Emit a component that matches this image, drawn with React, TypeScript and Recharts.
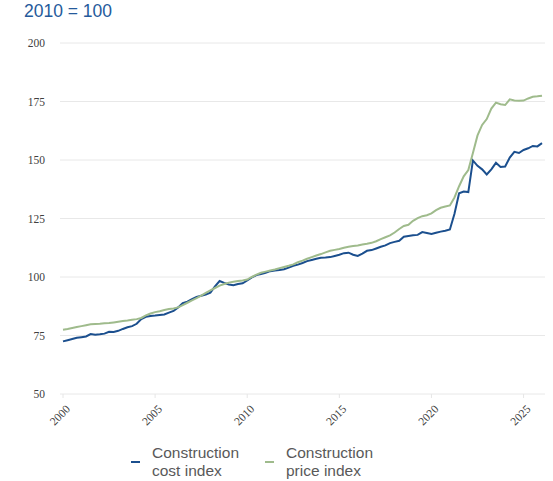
import React from "react";
import { LineChart, Line, XAxis, YAxis, CartesianGrid, Legend } from "recharts";

const dates: number[] = [
  2000.0, 2000.25, 2000.5, 2000.75, 2001.0, 2001.25, 2001.5, 2001.75,
  2002.0, 2002.25, 2002.5, 2002.75, 2003.0, 2003.25, 2003.5, 2003.75,
  2004.0, 2004.25, 2004.5, 2004.75, 2005.0, 2005.25, 2005.5, 2005.75,
  2006.0, 2006.25, 2006.5, 2006.75, 2007.0, 2007.25, 2007.5, 2007.75,
  2008.0, 2008.25, 2008.5, 2008.75, 2009.0, 2009.25, 2009.5, 2009.75,
  2010.0, 2010.25, 2010.5, 2010.75, 2011.0, 2011.25, 2011.5, 2011.75,
  2012.0, 2012.25, 2012.5, 2012.75, 2013.0, 2013.25, 2013.5, 2013.75,
  2014.0, 2014.25, 2014.5, 2014.75, 2015.0, 2015.25, 2015.5, 2015.75,
  2016.0, 2016.25, 2016.5, 2016.75, 2017.0, 2017.25, 2017.5, 2017.75,
  2018.0, 2018.25, 2018.5, 2018.75, 2019.0, 2019.25, 2019.5, 2019.75,
  2020.0, 2020.25, 2020.5, 2020.75, 2021.0, 2021.25, 2021.5, 2021.75,
  2022.0, 2022.25, 2022.5, 2022.75, 2023.0, 2023.25, 2023.5, 2023.75,
  2024.0, 2024.25, 2024.5, 2024.75, 2025.0, 2025.25, 2025.5, 2025.75,
  2026.0,
];

const costIndex: number[] = [
  72.5, 73.0, 73.5, 74.0, 74.3, 74.6, 75.6, 75.3,
  75.5, 75.8, 76.6, 76.5, 77.0, 77.8, 78.5, 79.0,
  80.0, 82.0, 83.0, 83.3, 83.5, 83.8, 84.0, 84.8,
  85.5, 87.0, 88.8, 89.5, 90.5, 91.5, 92.0, 92.5,
  93.3, 96.0, 98.3, 97.5, 96.8, 96.5, 97.0, 97.3,
  98.5, 99.8, 100.8, 101.3, 101.8, 102.5, 102.8, 103.0,
  103.3, 104.0, 104.8, 105.3, 106.0, 106.8, 107.3, 107.8,
  108.2, 108.3, 108.5, 109.0, 109.5, 110.2, 110.4, 109.5,
  109.0, 110.0, 111.2, 111.5, 112.2, 112.9, 113.5, 114.5,
  115.0, 115.5, 117.2, 117.5, 117.8, 118.0, 119.2, 118.8,
  118.4, 118.9, 119.4, 119.8, 120.3, 127.0, 135.8, 136.5,
  136.3, 149.8, 147.5, 146.0, 143.8, 146.0, 148.8, 147.0,
  147.2, 151.0, 153.5, 153.0, 154.3, 155.0, 156.0, 155.8,
  157.2,
];

const priceIndex: number[] = [
  77.5, 77.8, 78.2, 78.6, 79.0, 79.4, 79.8, 79.9,
  80.0, 80.2, 80.3, 80.6, 80.9, 81.2, 81.4, 81.7,
  82.0, 82.5, 83.6, 84.4, 85.0, 85.4, 85.9, 86.3,
  86.5, 87.0, 88.0, 89.0, 90.0, 91.0, 92.0, 93.2,
  94.3, 95.3, 96.3, 97.0, 97.6, 98.0, 98.3, 98.5,
  98.9, 100.0, 101.0, 101.8, 102.3, 102.8, 103.2, 103.8,
  104.3, 104.8, 105.4, 106.3, 107.0, 107.8, 108.5, 109.2,
  109.8, 110.5, 111.2, 111.6, 112.0, 112.5, 112.9, 113.2,
  113.5, 113.9, 114.2, 114.6, 115.3, 116.2, 117.0, 117.8,
  119.0, 120.5, 121.8, 122.3, 124.0, 125.2, 126.0, 126.4,
  127.2, 128.6, 129.6, 130.1, 130.6, 134.0, 138.8, 143.0,
  145.7, 153.0, 160.5, 165.0, 167.5, 172.0, 174.5, 173.8,
  173.5, 175.9, 175.4, 175.3, 175.4, 176.3, 177.0, 177.2,
  177.5,
];

const xTicks: number[] = [2000, 2005, 2010, 2015, 2020, 2025];
const yTicks: number[] = [50, 75, 100, 125, 150, 175, 200];

const seriesNames: string[] = ["Construction cost index", "Construction price index"];
const seriesLines: string[][] = [
  ["Construction", "cost index"],
  ["Construction", "price index"],
];
const seriesColors: string[] = ["#1b4f8e", "#9fbb8c"];

const data = dates.map((d, i) => ({
  date: d,
  cost: costIndex[i],
  price: priceIndex[i],
}));

const SERIF = "'Liberation Serif', 'DejaVu Serif', 'Times New Roman', serif";

const XTick = (props: any) => {
  const { x, y, payload } = props;
  return (
    <g transform={`translate(${x},${y})`}>
      <text
        x={0}
        y={0}
        dy={11}
        textAnchor="end"
        transform="rotate(-45)"
        style={{ fontFamily: SERIF }}
        fontSize={11.5}
        fill="#404040"
      >
        {payload.value}
      </text>
    </g>
  );
};

const YTick = (props: any) => {
  const { x, y, payload } = props;
  return (
    <text
      x={x}
      y={y}
      dy={4}
      textAnchor="end"
      style={{ fontFamily: SERIF }}
      fontSize={11.5}
      fill="#404040"
    >
      {payload.value}
    </text>
  );
};

const LegendContent = () => (
  <div style={{ position: "relative", width: 553, height: 40 }}>
    {seriesLines.map((lines, i) => (
      <div
        key={i}
        style={{
          position: "absolute",
          left: i === 0 ? 131 : 265,
          top: 0,
          display: "flex",
          alignItems: "center",
        }}
      >
        <div style={{ width: 9, height: 2, background: seriesColors[i], marginRight: 12 }} />
        <div
          style={{
            fontFamily: "Arial, 'Liberation Sans', sans-serif",
            fontSize: 15.5,
            lineHeight: "18.4px",
            color: "#595959",
          }}
        >
          {lines.map((l, j) => (
            <div key={j}>{l}</div>
          ))}
        </div>
      </div>
    ))}
  </div>
);

export default function App() {
  return (
    <div style={{ position: "absolute", left: 0, top: 0, width: 553, height: 481, background: "#fff" }}>
      <div
        style={{
          position: "absolute",
          left: 24,
          top: 1,
          fontFamily: "Arial, 'Liberation Sans', sans-serif",
          fontSize: 17.5,
          color: "#255a9b",
          whiteSpace: "nowrap",
        }}
      >
        2010 = 100
      </div>
      <LineChart
        width={553}
        height={481}
        data={data}
        margin={{ top: 43, right: 8, bottom: 47, left: 0 }}
      >
        <CartesianGrid vertical={false} stroke="#e8e8e8" />
        <XAxis
          dataKey="date"
          type="number"
          domain={[2000, 2026]}
          ticks={xTicks}
          padding={{ left: 3, right: 3 }}
          axisLine={false}
          tickLine={{ stroke: "#e6e6e6" }}
          tickSize={4}
          tickMargin={4}
          height={40}
          interval={0}
          tick={<XTick />}
        />
        <YAxis
          type="number"
          domain={[50, 200]}
          ticks={yTicks}
          width={60}
          axisLine={false}
          tickLine={false}
          tickSize={6}
          tickMargin={9}
          tick={<YTick />}
        />
        <Legend
          layout="horizontal"
          verticalAlign="middle"
          align="center"
          wrapperStyle={{ left: 0, top: 444, width: 553 }}
          content={LegendContent}
        />
        <Line
          dataKey="cost"
          name={seriesNames[0]}
          stroke={seriesColors[0]}
          strokeWidth={2}
          dot={false}
          type="linear"
          isAnimationActive={false}
        />
        <Line
          dataKey="price"
          name={seriesNames[1]}
          stroke={seriesColors[1]}
          strokeWidth={2}
          dot={false}
          type="linear"
          isAnimationActive={false}
        />
      </LineChart>
    </div>
  );
}
